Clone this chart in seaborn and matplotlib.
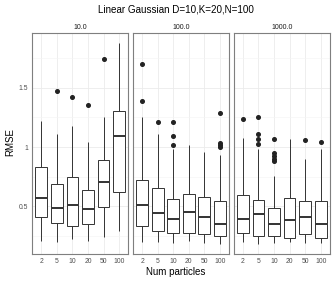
import numpy as np
import pandas as pd
import matplotlib
matplotlib.use("Agg")
import matplotlib.pyplot as plt
import seaborn as sns

# ---- data (box summaries per facet) ----
facets = ["10.0", "100.0", "1000.0"]
particles = ["2", "5", "10", "20", "50", "100"]

lo_10 = [0.21, 0.20, 0.225, 0.21, 0.24, 0.295]
q1_10 = [0.407, 0.356, 0.334, 0.354, 0.491, 0.623]
med_10 = [0.570, 0.483, 0.508, 0.474, 0.702, 1.095]
q3_10 = [0.828, 0.691, 0.747, 0.634, 0.887, 1.303]
hi_10 = [1.224, 1.112, 1.18, 1.045, 1.253, 1.88]
out_10 = [[], [1.474], [1.42], [1.356], [1.741], []]

lo_100 = [0.20, 0.202, 0.188, 0.21, 0.195, 0.183]
q1_100 = [0.331, 0.289, 0.275, 0.278, 0.267, 0.247]
med_100 = [0.511, 0.444, 0.393, 0.455, 0.413, 0.351]
q3_100 = [0.719, 0.651, 0.562, 0.604, 0.579, 0.548]
hi_100 = [1.258, 1.112, 0.988, 1.017, 0.96, 0.935]
out_100 = [[1.70, 1.39], [1.213], [1.21, 1.093, 1.017], [], [], [1.29, 1.034, 1.017, 1.003]]

lo_1000 = [0.20, 0.185, 0.19, 0.20, 0.19, 0.195]
q1_1000 = [0.272, 0.247, 0.25, 0.233, 0.267, 0.233]
med_1000 = [0.393, 0.432, 0.354, 0.387, 0.407, 0.348]
q3_1000 = [0.596, 0.553, 0.486, 0.57, 0.542, 0.545]
hi_1000 = [1.076, 0.983, 0.756, 1.07, 0.901, 0.986]
out_1000 = [[1.238], [1.253, 1.11, 1.067, 1.025], [1.072, 0.946, 0.924, 0.901, 0.879], [], [1.056], [1.045]]

summaries = {
    "10.0": (lo_10, q1_10, med_10, q3_10, hi_10, out_10),
    "100.0": (lo_100, q1_100, med_100, q3_100, hi_100, out_100),
    "1000.0": (lo_1000, q1_1000, med_1000, q3_1000, hi_1000, out_1000),
}


def sample_from_summary(lo, q1, med, q3, hi, outs):
    """Build a small sample whose quartiles/whiskers/outliers equal the summary."""
    k = len(outs)
    m = k + 1
    vals = [lo] + [q1] * m + [med] * m + [q3] * m + [hi] + sorted(outs)
    return vals


rows = []
for f in facets:
    lo, q1, med, q3, hi, out = summaries[f]
    for i, p in enumerate(particles):
        for v in sample_from_summary(lo[i], q1[i], med[i], q3[i], hi[i], out[i]):
            rows.append({"facet": f, "particles": p, "RMSE": v})
df = pd.DataFrame(rows)

# ---- style ----
sns.set_theme(style="white")
plt.rcParams["font.family"] = ["Liberation Sans", "DejaVu Sans"]

fig, axes = plt.subplots(1, 3, figsize=(3.36, 2.84), dpi=100, sharey=True)
fig.subplots_adjust(left=32 / 336, right=330 / 336, top=1 - 32.7 / 284,
                    bottom=1 - 254 / 284, wspace=0.045)

for ax, f in zip(axes, facets):
    ax.set_axisbelow(True)
    sub = df[df["facet"] == f]
    sns.boxplot(data=sub, x="particles", y="RMSE", order=particles, ax=ax,
                width=0.75, color="white", linecolor="#333333", linewidth=0.7,
                showcaps=False, fliersize=2.6,
                medianprops=dict(linewidth=1.4, color="#333333"),
                flierprops=dict(marker="o", markerfacecolor="#222222",
                                markeredgecolor="#222222"))
    ax.set_xlim(-0.6, 5.6)
    ax.set_ylim(0.098, 1.965)
    ax.set_yticks([0.5, 1.0, 1.5])
    ax.set_yticks([0.25, 0.75, 1.25, 1.75], minor=True)
    ax.set_yticklabels(["0.5", "1", "1.5"])
    ax.grid(True, which="major", color="#ebebeb", linewidth=0.6)
    ax.grid(True, which="minor", axis="y", color="#f4f4f4", linewidth=0.4)
    for s in ax.spines.values():
        s.set_color("#7f7f7f")
        s.set_linewidth(0.8)
    ax.tick_params(axis="both", which="major", length=2, width=0.5,
                   color="#333333", labelsize=4.9, labelcolor="#4d4d4d", pad=1)
    ax.tick_params(axis="y", which="minor", length=0)
    ax.set_xlabel("")
    ax.set_ylabel("")
    ax.set_title(f, fontsize=5, color="#1a1a1a", pad=2.5)

for ax in axes[1:]:
    ax.tick_params(axis="y", which="both", length=0, labelleft=False)

fig.text(176 / 336, 1 - 10 / 284, "Linear Gaussian D=10,K=20,N=100",
         ha="center", va="center", fontsize=7.1, color="black")
fig.text(176 / 336, 1 - 272 / 284, "Num particles", ha="center", va="center",
         fontsize=7, color="black")
fig.text(10 / 336, 1 - 142 / 284, "RMSE", ha="center", va="center",
         rotation=90, fontsize=7, color="black")

fig.savefig("out.png", dpi=100)
